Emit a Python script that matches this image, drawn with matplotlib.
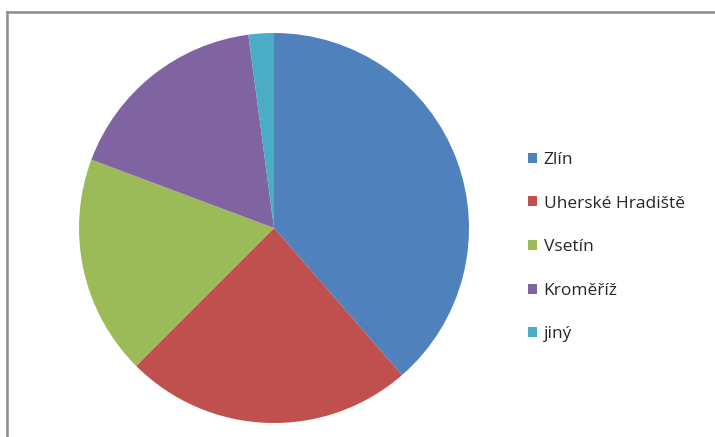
import matplotlib.pyplot as plt
from matplotlib.lines import Line2D

# district shares (%)
labels = ['Zlín', 'Uherské Hradiště', 'Vsetín', 'Kroměříž', 'jiný']
shares = [38.6, 23.9, 18.2, 17.2, 2.1]
colors = ['#4F81BD', '#C0504D', '#9BBB59', '#8064A2', '#4BACC6']

plt.rcParams['font.family'] = ['Open Sans', 'DejaVu Sans']

fig = plt.figure(figsize=(7.15, 4.37), dpi=100)
ax = fig.add_axes([0, 0, 1, 1])

wedges, _ = ax.pie(shares, colors=colors, startangle=90, counterclock=False,
                   center=(274, 209), radius=195, frame=True)
ax.set_xlim(0, 715)
ax.set_ylim(0, 437)
ax.set_aspect('equal')
ax.axis('off')

# chart area border (only top and left edges visible in the crop)
fig.add_artist(Line2D([6.5 / 715, 1], [1 - 11.5 / 437, 1 - 11.5 / 437],
                      color='#8c8c8c', lw=1.8))
fig.add_artist(Line2D([6.5 / 715, 6.5 / 715], [0, 1 - 11.5 / 437],
                      color='#8c8c8c', lw=1.8))

leg = ax.legend(wedges, labels, loc='upper left', bbox_to_anchor=(521 / 715, 1 - 145 / 437),
                frameon=False, fontsize=12.5, handlelength=0.5, handleheight=0.5,
                handletextpad=0.4, labelspacing=1.59, borderaxespad=0)
for t in leg.get_texts():
    t.set_color('#262626')

fig.savefig('out.png', dpi=100)
